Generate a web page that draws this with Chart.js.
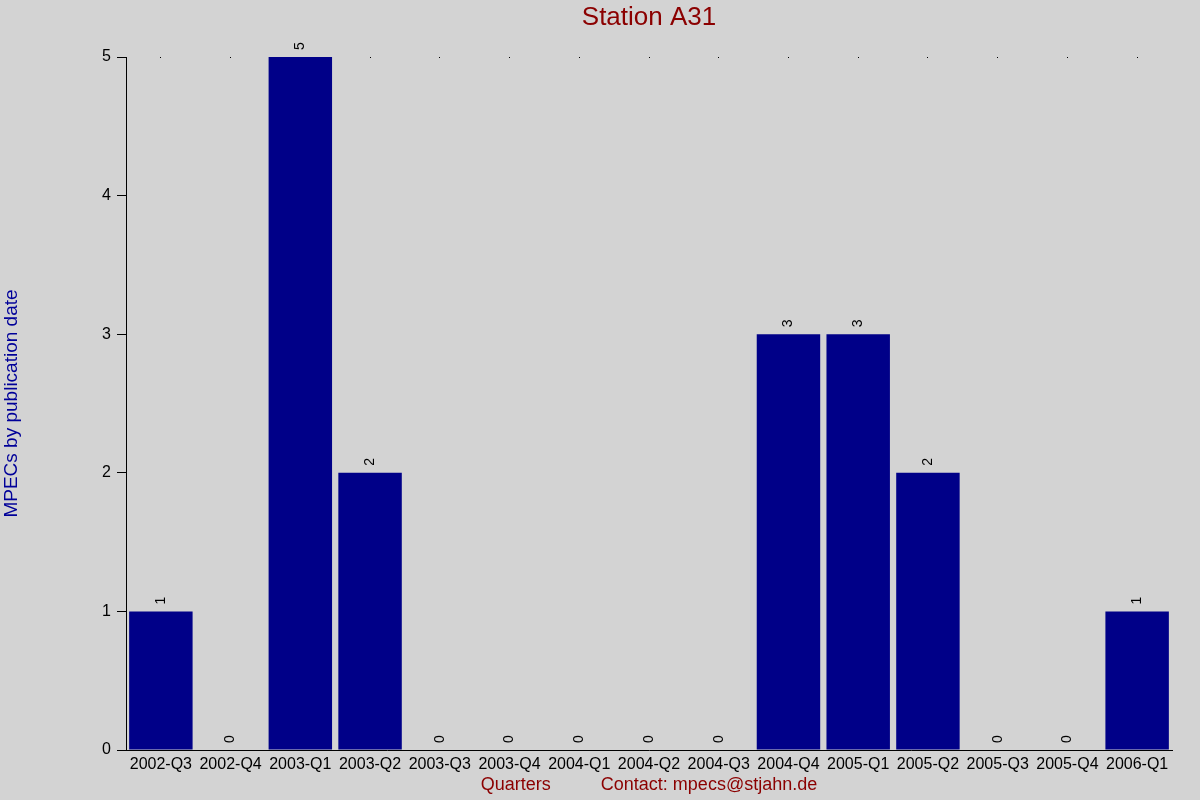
<!DOCTYPE html>
<html>
<head>
<meta charset="utf-8">
<script src="https://cdn.jsdelivr.net/npm/chart.js@4"></script>
<style>
  html, body { margin: 0; padding: 0; background: #d3d3d3; }
  #wrap { width: 1200px; height: 800px; }
  canvas { display: block; background: #d3d3d3; }
</style>
</head>
<body>
<div id="wrap"><canvas id="c" width="1200" height="800"></canvas></div>
<script>
const categories = ["2002-Q3","2002-Q4","2003-Q1","2003-Q2","2003-Q3","2003-Q4","2004-Q1","2004-Q2","2004-Q3","2004-Q4","2005-Q1","2005-Q2","2005-Q3","2005-Q4","2006-Q1"];
const mpecCounts = [1,0,5,2,0,0,0,0,0,3,3,2,0,0,1];
const yTicks = [0,1,2,3,4,5];
const chartTitle = "Station A31";
const yTitle = "MPECs by publication date";
const xTitle = "Quarters          Contact: mpecs@stjahn.de";

const FONT = "'Liberation Sans', Arial, sans-serif";

const titlePlugin = {
  id: 'centerTitle',
  afterDraw(chart) {
    const ctx = chart.ctx, a = chart.chartArea;
    ctx.save();
    ctx.font = "26px " + FONT;
    ctx.fillStyle = "#8b0000";
    ctx.textAlign = "center";
    ctx.textBaseline = "middle";
    ctx.fillText(chartTitle, (a.left + a.right) / 2, 18);
    ctx.restore();
  }
};

const valueLabels = {
  id: 'valueLabels',
  afterDatasetsDraw(chart) {
    const ctx = chart.ctx;
    const meta = chart.getDatasetMeta(0);
    ctx.save();
    ctx.font = "14px " + FONT;
    ctx.fillStyle = "#000000";
    ctx.textAlign = "left";
    ctx.textBaseline = "middle";
    meta.data.forEach((el, i) => {
      ctx.save();
      ctx.translate(el.x, el.y - 7);
      ctx.rotate(-Math.PI / 2);
      ctx.fillText(String(mpecCounts[i]), 0, 0);
      ctx.restore();
    });
    ctx.restore();
  }
};

new Chart(document.getElementById('c'), {
  type: 'bar',
  data: {
    labels: categories,
    datasets: [{
      data: mpecCounts,
      backgroundColor: '#000088',
      borderWidth: 0,
      barPercentage: 0.91,
      categoryPercentage: 1.0
    }]
  },
  options: {
    responsive: false,
    animation: false,
    devicePixelRatio: 1,
    layout: { padding: { top: 57, right: 28, left: 0, bottom: 0 } },
    plugins: {
      legend: { display: false },
      title: { display: false },
      tooltip: { enabled: false }
    },
    scales: {
      x: {
        offset: true,
        grid: {
          display: true,
          offset: false,
          drawOnChartArea: true,
          drawTicks: false,
          color: '#000000',
          lineWidth: 1
        },
        border: { display: true, color: '#000000', width: 1, dash: [1, 3000] },
        ticks: { color: '#000000', font: { family: FONT, size: 16 }, padding: 5, maxRotation: 0, autoSkip: false },
        title: {
          display: true,
          text: xTitle,
          color: '#8b0000',
          font: { family: FONT, size: 18 },
          padding: { top: 0, bottom: 4 }
        },
        afterFit(scale) { scale.height = 50; }
      },
      y: {
        min: 0,
        max: 5,
        afterBuildTicks(scale) { scale.ticks = yTicks.map(v => ({ value: v })); },
        grid: {
          display: true,
          drawOnChartArea: false,
          drawTicks: true,
          tickLength: 9,
          color: '#000000'
        },
        border: { display: true, color: '#000000', width: 1 },
        ticks: { color: '#000000', font: { family: FONT, size: 16 }, padding: 6 },
        title: {
          display: true,
          text: yTitle,
          color: '#000099',
          font: { family: FONT, size: 19 },
          padding: { top: 0, bottom: 0 }
        },
        afterFit(scale) { scale.width = 126; }
      }
    }
  },
  plugins: [titlePlugin, valueLabels]
});
</script>
</body>
</html>
